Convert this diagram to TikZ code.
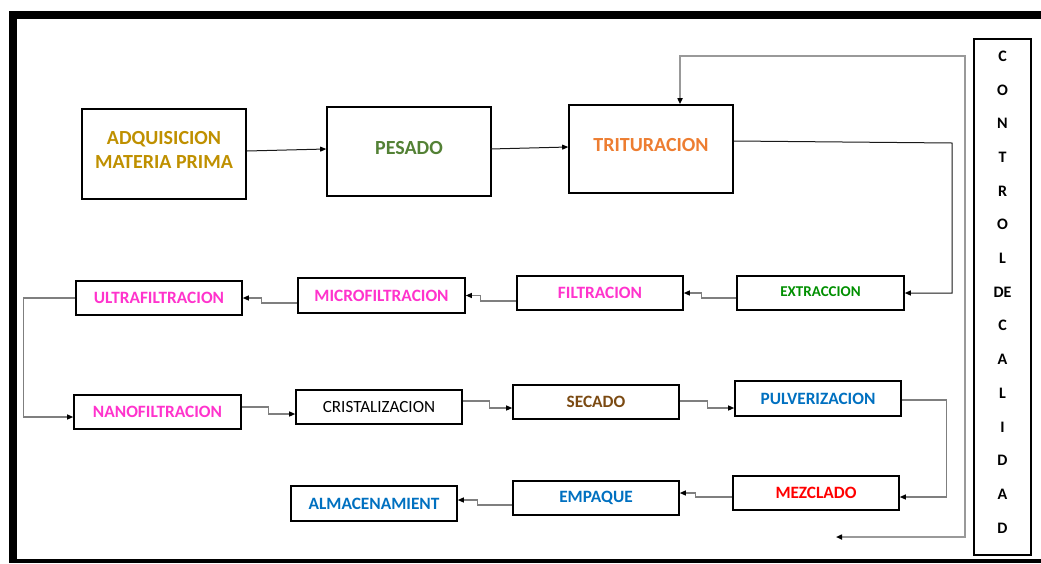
\documentclass[tikz,border=0pt]{standalone}
\usepackage{fontspec}
\setmainfont{Carlito}
\usetikzlibrary{arrows.meta,calc}
\definecolor{cgold}{HTML}{BF9000}
\definecolor{cgreen}{HTML}{538135}
\definecolor{corange}{HTML}{ED7D31}
\definecolor{cpink}{HTML}{FF33CC}
\definecolor{cgreen2}{HTML}{008F00}
\definecolor{cbrown}{HTML}{7B4A12}
\definecolor{cblue}{HTML}{0070C0}
\definecolor{cred}{HTML}{FF0000}
\definecolor{cline}{HTML}{7F7F7F}
\tikzset{
  bigbox/.style={draw=black,line width=1.6pt,inner sep=0pt,minimum width=164pt,font=\bfseries\fontsize{20}{24}\selectfont,align=center},
  smallbox/.style={draw=black,line width=1.6pt,inner sep=0pt,minimum width=166pt,minimum height=34pt,font=\bfseries\fontsize{17.3}{20}\selectfont},
  conn/.style={draw=cline,line width=1.1pt,-{Triangle[length=6pt,width=5pt,color=black,fill=black]}},
  dconn/.style={draw=black!90,line width=1pt,-{Triangle[length=6pt,width=5pt,color=black,fill=black]}},
}
\begin{document}
\begin{tikzpicture}[x=1pt,y=-1pt]
\useasboundingbox (0,0) rectangle (1041,563);
% frame
\fill[black] (10,11) rectangle (1041,19);
\fill[black] (9,11) rectangle (17,563);
\fill[black] (9,559) rectangle (1041,563);
% top row
\node[bigbox,minimum height=90pt,text=cgold] (adq) at (164,154) {\raisebox{8pt}{\shortstack{ADQUISICION\\[5pt]MATERIA PRIMA}}};
\node[bigbox,minimum height=89pt,text=cgreen] (pes) at (409,151.5) {\raisebox{8pt}{PESADO}};
\node[bigbox,minimum height=88pt,text=corange] (tri) at (651,149) {\raisebox{8pt}{TRITURACION}};
% second row
\node[smallbox,minimum width=167pt,text=cgreen2,font=\bfseries\fontsize{15}{18}\selectfont] (ext) at (820.5,293) {\raisebox{2pt}{EXTRACCION}};
\node[smallbox,text=cpink] (fil) at (600,293) {FILTRACION};
\node[smallbox,minimum width=167pt,minimum height=35pt,text=cpink] (mic) at (381.5,295.5) {MICROFILTRACION};
\node[smallbox,text=cpink] (ult) at (159,298) {ULTRAFILTRACION};
% third row
\node[smallbox,minimum width=167pt,text=cpink] (nan) at (157.5,412) {NANOFILTRACION};
\node[smallbox,text=black,font=\fontsize{17.1}{20}\selectfont] (cri) at (379,407) {CRISTALIZACION};
\node[smallbox,text=cbrown] (sec) at (596,402) {SECADO};
\node[smallbox,minimum height=35pt,text=cblue] (pul) at (818,398.5) {PULVERIZACION};
% fourth row
\node[smallbox,text=cred] (mez) at (816,493) {MEZCLADO};
\node[smallbox,text=cblue] (emp) at (596,498) {EMPAQUE};
\node[smallbox,minimum height=35pt,text=cblue] (alm) at (374,503.5) {ALMACENAMIENT};
% control de calidad
\node[draw=black,line width=1.6pt,minimum width=57pt,minimum height=516pt,inner sep=0pt] (ctrl) at (1002.5,297) {};
\node[font=\bfseries\fontsize{16}{33.7}\selectfont,align=center,inner sep=0pt] (ctrltxt) at (1002.5,292)
  {C\\O\\N\\T\\R\\O\\L\\DE\\C\\A\\L\\I\\D\\A\\D};
% connectors
\coordinate (fbend) at (836,537);
\draw[dconn] ($(adq.east)+(0,-3)$) -- ($(pes.west)+(0,-2.5)$);
\draw[dconn] ($(pes.west)+(164,-2.5)$) -- ($(tri.west)+(0,-2)$);
\draw[dconn] ($(tri.east)+(0,-8)$) -- (952,143) |- (ext.east);
\draw[draw=cline!80,line width=1.5pt,{Triangle[length=6pt,width=5pt,color=black,fill=black]}-{Triangle[length=6pt,width=5pt,color=black,fill=black]}]
  ($(tri.north)+(29,0)$) |- (965,56) |- (fbend);
\draw[conn] ($(ext.west)+(0,5)$) -- ++(-35,0) |- (fil.east);
\draw[conn] ($(fil.west)+(0,8)$) -- ++(-36,0) |- (mic.east);
\draw[conn] ($(mic.west)+(0,7.5)$) -- ++(-36,0) |- (ult.east);
\draw[conn] (ult.west) -- ++(-52,0) |- ($(nan.west)+(0,5)$);
\draw[conn] ($(nan.east)+(0,-5)$) -- ++(27,0) |- ($(cri.west)+(0,7)$);
\draw[conn] ($(cri.east)+(0,-6)$) -- ++(27,0) |- ($(sec.west)+(0,6)$);
\draw[conn] ($(sec.east)+(0,-1)$) -- ++(28,0) |- ($(pul.west)+(0,9.5)$);
\draw[conn] ($(pul.east)+(0,1.5)$) -- ++(45,0) |- ($(mez.east)+(0,4)$);
\draw[conn] ($(mez.west)+(0,4)$) -- ++(-37,0) |- ($(emp.east)+(0,-5)$);
\draw[conn] ($(emp.west)+(0,7)$) -- ++(-35,0) |- ($(alm.east)+(0,-3.5)$);
\end{tikzpicture}
\end{document}
